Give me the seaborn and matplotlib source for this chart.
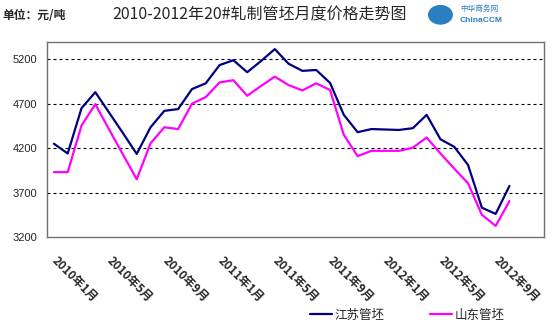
"""Monthly price trend of 20# rolled tube billets, 2010-2012."""

import matplotlib

matplotlib.use("Agg")

import matplotlib.pyplot as plt
import numpy as np
import pandas as pd
import seaborn as sns
from matplotlib.patches import Ellipse

# month labels shown on the x axis (every 4th month)
tick_labels = ["2010年1月", "2010年5月", "2010年9月", "2011年1月", "2011年5月",
               "2011年9月", "2012年1月", "2012年5月", "2012年9月"]
n_months = 36  # category axis runs 2010-01 .. 2012-12

jiangsu = [4250, 4140, 4650, 4830, 4600, 4370, 4135, 4435, 4620, 4640, 4865, 4930,
           5135, 5190, 5055, 5180, 5315, 5150, 5070, 5080, 4935, 4575, 4380, 4415,
           4410, 4405, 4425, 4575, 4300, 4215, 4010, 3530, 3460, 3775]
shandong = [3930, 3930, 4455, 4695, 4410, 4130, 3850, 4255, 4435, 4415, 4700, 4775,
            4940, 4965, 4790, 4900, 5005, 4910, 4850, 4930, 4855, 4350, 4110, 4170,
            4170, 4170, 4205, 4320, 4140, 3970, 3805, 3450, 3325, 3605]
series_names = ["江苏管坯", "山东管坯"]
colors = ["#000080", "#FF00FF"]

sns.set_style("white")
plt.rcParams["font.family"] = ["Noto Sans CJK SC", "DejaVu Sans"]

df = pd.DataFrame({
    "month": list(range(len(jiangsu))) * 2,
    "price": jiangsu + shandong,
    "series": [series_names[0]] * len(jiangsu) + [series_names[1]] * len(shandong),
})

fig = plt.figure(figsize=(5.54, 3.29), dpi=100)
ax = fig.add_axes([47 / 554, 92 / 329, 497 / 554, 195 / 329])

sns.lineplot(data=df, x="month", y="price", hue="series", palette=colors,
             linewidth=1.6, ax=ax, legend=False, zorder=3)

ax.set_xlim(-0.5, n_months - 0.5)
ax.set_ylim(3200, 5395)
ax.set_xlabel("")
ax.set_ylabel("")

yticks = [3200, 3700, 4200, 4700, 5200]
ax.set_yticks(yticks)
ax.set_yticklabels([str(v) for v in yticks], family="Liberation Sans", fontsize=8)
ax.tick_params(axis="y", length=0, pad=7)
for v in yticks[1:]:
    ax.axhline(v, color="black", lw=0.8, ls=(0, (2.7, 2.7)), zorder=1)

ax.set_xticks(np.arange(0, n_months, 4))
ax.set_xticklabels(tick_labels, rotation=-45, rotation_mode="anchor",
                   ha="left", va="center", fontsize=8.5, fontweight="bold")
ax.tick_params(axis="x", which="major", length=0, pad=16)
ax.set_xticks(np.arange(3.5, n_months - 1, 4), minor=True)
ax.tick_params(axis="x", which="minor", direction="in", length=4, color="#404040")

for spine in ax.spines.values():
    spine.set_color("#707070")
    spine.set_linewidth(1.0)

fig.text(0.005, 0.952, "单位：元/吨", fontsize=8.5, fontweight="bold", va="center")
fig.text(0.468, 0.955, "2010-2012年20#轧制管坯月度价格走势图", fontsize=11.5,
         ha="center", va="center")

# ChinaCCM logo approximation
fig.patches.append(Ellipse((0.795, 0.955), 0.045, 0.06, transform=fig.transFigure,
                           facecolor="#2a7fc0", edgecolor="none"))
fig.text(0.83, 0.972, "中华商务网", fontsize=5.5, color="#2a7fc0", va="center")
fig.text(0.83, 0.938, "ChinaCCM", fontsize=6, color="#2a7fc0", fontweight="bold",
         va="center", family="Liberation Sans")

handles = [plt.Line2D([], [], color=c, lw=1.6) for c in colors]
fig.legend(handles, series_names, loc="center", bbox_to_anchor=(0.735, 0.042),
           ncol=2, frameon=False, fontsize=9, handlelength=1.8, handletextpad=0.2,
           columnspacing=3.6)

fig.savefig("out.png", dpi=100)
